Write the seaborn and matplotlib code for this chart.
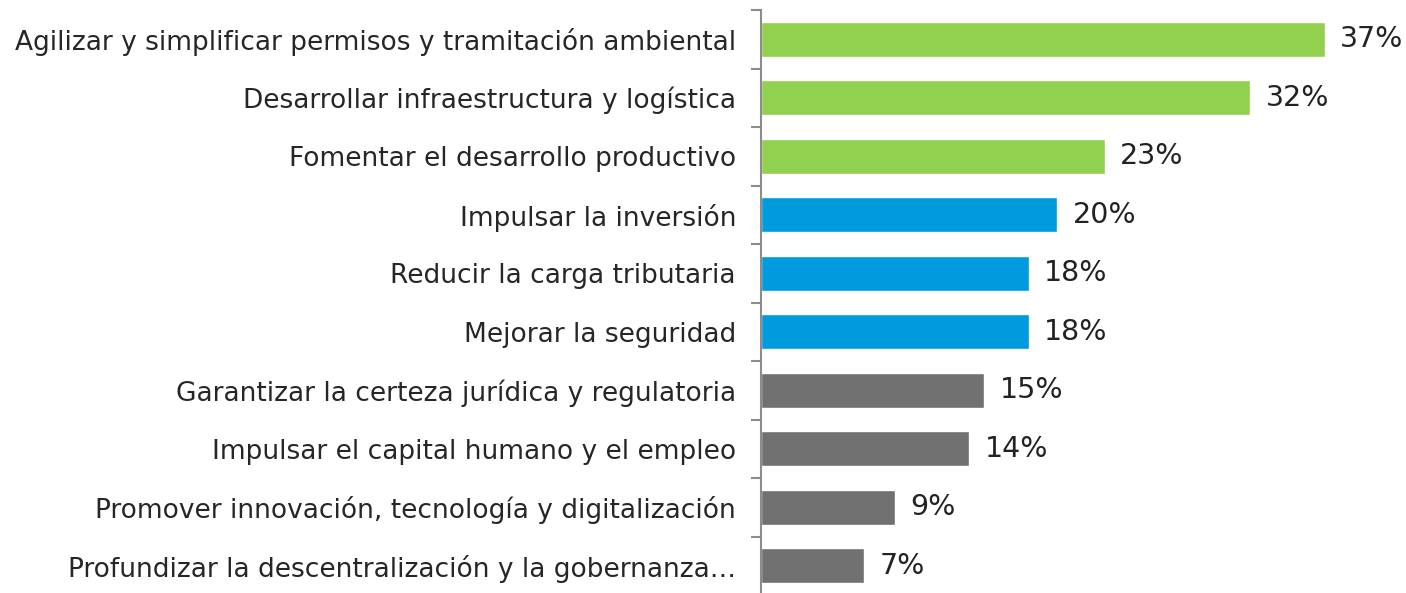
import numpy as np
import pandas as pd
import seaborn as sns
import matplotlib.pyplot as plt
from matplotlib.ticker import FixedLocator

categories = [
    "Agilizar y simplificar permisos y tramitación ambiental",
    "Desarrollar infraestructura y logística",
    "Fomentar el desarrollo productivo",
    "Impulsar la inversión",
    "Reducir la carga tributaria",
    "Mejorar la seguridad",
    "Garantizar la certeza jurídica y regulatoria",
    "Impulsar el capital humano y el empleo",
    "Promover innovación, tecnología y digitalización",
    "Profundizar la descentralización y la gobernanza…",
]
values = [37.1, 32.2, 22.6, 19.5, 17.6, 17.6, 14.7, 13.7, 8.8, 6.8]
value_labels = ["37%", "32%", "23%", "20%", "18%", "18%", "15%", "14%", "9%", "7%"]
groups = ["top", "top", "top", "mid", "mid", "mid", "low", "low", "low", "low"]

group_colors = {"top": "#92D050", "mid": "#009ADE", "low": "#717171"}

df = pd.DataFrame({"categoria": categories, "valor": values, "grupo": groups})

sns.set_style("white")
plt.rcParams["font.family"] = ["DejaVu Sans"]

fig = plt.figure(figsize=(14.06, 5.93), dpi=100)
ax = fig.add_axes([761 / 1406, -2 / 593, 641 / 1406, 585 / 593])

sns.barplot(data=df, x="valor", y="categoria", hue="grupo", palette=group_colors,
            dodge=False, width=0.6, legend=False, ax=ax, saturation=1)

# one label per bar, in category order
bars = sorted([b for c in ax.containers for b in c], key=lambda b: b.get_y())
for bar, lab in zip(bars, value_labels):
    ax.annotate(lab, (bar.get_width(), bar.get_y() + bar.get_height() / 2),
                xytext=(11, 0), textcoords="offset points", va="center",
                fontsize=20.5, color="#222222")

ax.set_xlim(0, 641 / 15.2)
ax.set_ylim(len(categories) - 0.5, -0.5)
ax.set_xlabel("")
ax.set_ylabel("")
ax.set_xticks([])

for side in ["top", "right", "bottom"]:
    ax.spines[side].set_visible(False)
ax.spines["left"].set_color("#8c8c8c")
ax.spines["left"].set_linewidth(1.5)

ax.tick_params(axis="y", which="major", left=False, length=0, pad=18,
               labelsize=19, labelcolor="#262626")
ax.yaxis.set_minor_locator(FixedLocator(np.arange(-0.5, len(categories), 1)))
ax.tick_params(axis="y", which="minor", left=True, length=7, width=1.5, color="#8c8c8c")

fig.savefig("out.png", dpi=100)
